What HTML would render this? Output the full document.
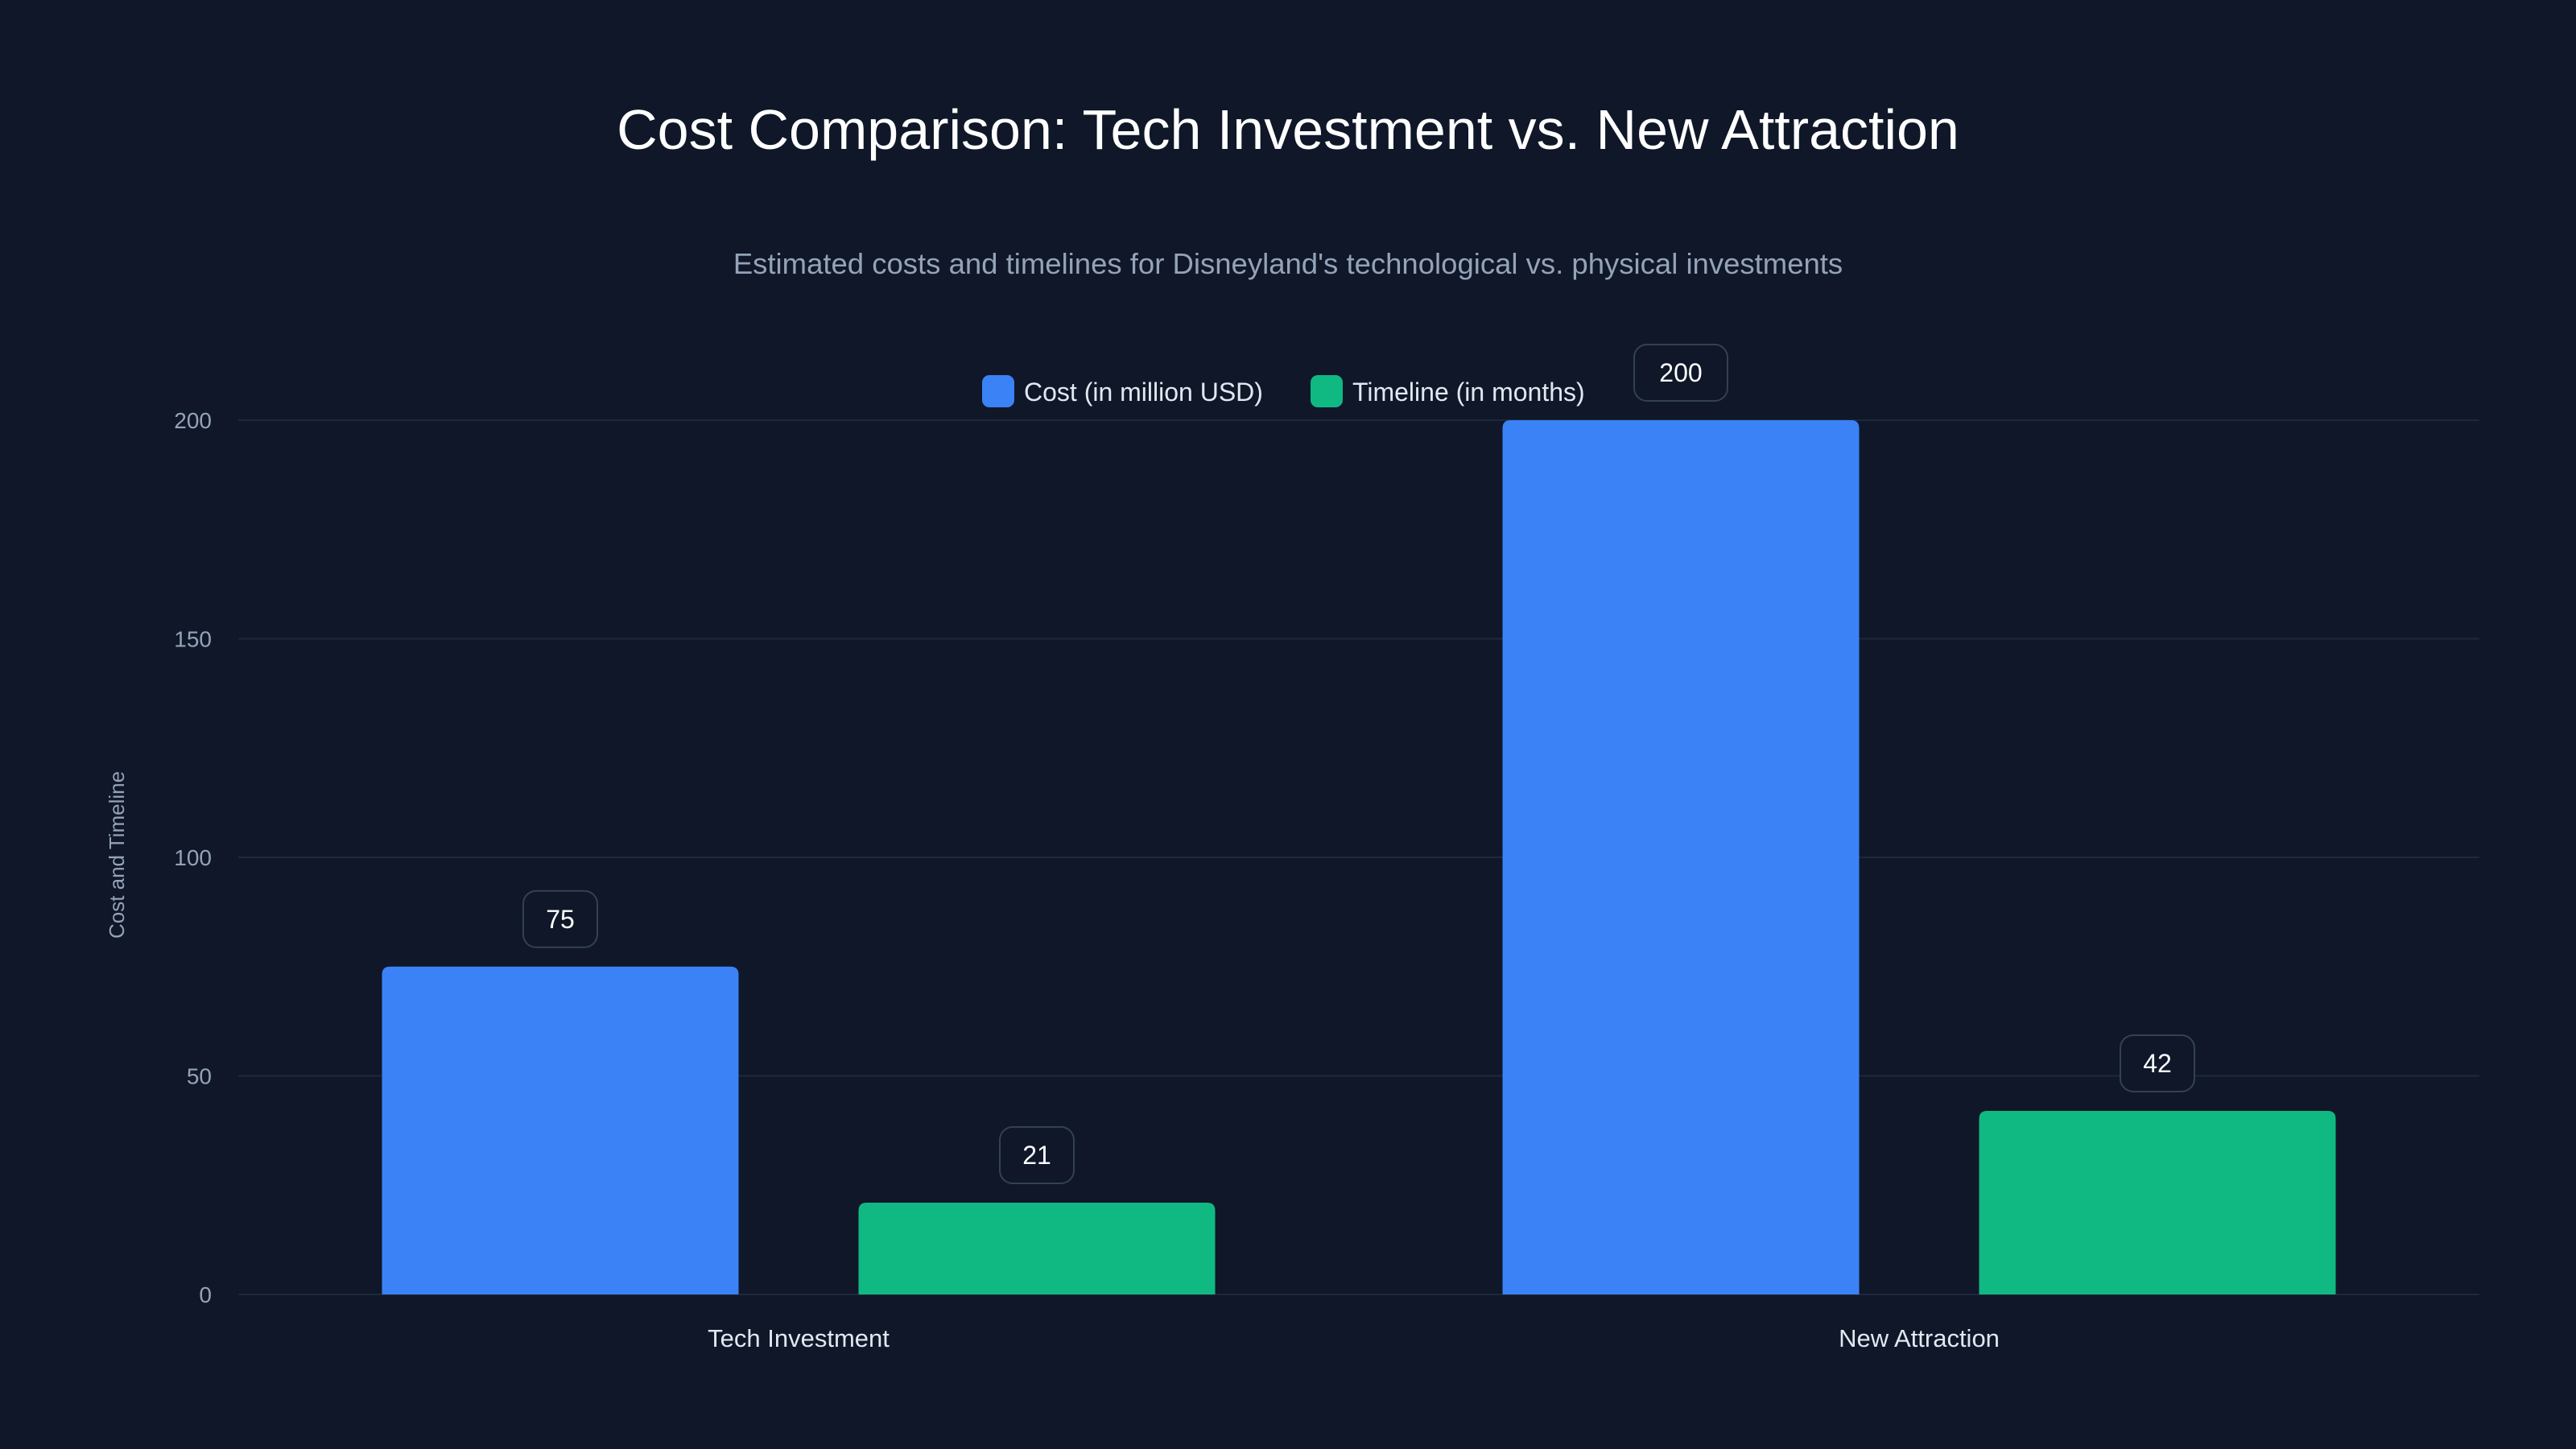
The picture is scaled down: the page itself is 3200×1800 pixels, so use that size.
<!DOCTYPE html>
<html><head><meta charset="utf-8"><style>
html,body{margin:0;padding:0;background:#0f172a;}
svg{display:block;font-family:"Liberation Sans",sans-serif;}
</style></head><body>
<svg id="chart" width="3200" height="1800" viewBox="0 0 3200 1800">
<rect width="3200" height="1800" fill="#0f1729"/>
<text x="1600" y="185" text-anchor="middle" font-size="70" fill="#ffffff">Cost Comparison: Tech Investment vs. New Attraction</text>
<text x="1600" y="340" text-anchor="middle" font-size="36.5" fill="#94a3b8">Estimated costs and timelines for Disneyland's technological vs. physical investments</text>
<g>
<g><rect x="1220" y="466" width="40" height="40" rx="9" fill="#3b82f6"/><text x="1272" y="498" font-size="32" fill="#e2e8f0">Cost (in million USD)</text></g>
<g><rect x="1628" y="466" width="40" height="40" rx="9" fill="#10b981"/><text x="1680" y="498" font-size="32" fill="#e2e8f0">Timeline (in months)</text></g>
</g>
<text transform="translate(154,1062) rotate(-90)" text-anchor="middle" font-size="26" fill="#94a3b8">Cost and Timeline</text>
<g id="grid"></g><g id="bars"></g><g id="labels"></g>
</svg>
<script>
const categories = ["Tech Investment", "New Attraction"];
const costValues = [75, 200];
const timelineValues = [21, 42];
const yTicks = [0, 50, 100, 150, 200];
const NS = "http://www.w3.org/2000/svg";
const x0 = 296, x1 = 3080, yBase = 1608, yTop = 522, yMax = 200;
const y = v => yBase - (v / yMax) * (yBase - yTop);
const groupW = (x1 - x0) / categories.length;
const barW = 443;
const cx = i => x0 + groupW * (i + 0.5);
function mk(tag, attrs, parent) { const e = document.createElementNS(NS, tag); for (const k in attrs) e.setAttribute(k, attrs[k]); parent.appendChild(e); return e; }
const grid = document.getElementById("grid"), bars = document.getElementById("bars"), labels = document.getElementById("labels");
yTicks.forEach(t => {
  const l = mk("line", {x1: x0, x2: x1, y1: y(t), y2: y(t), stroke: "#1e293b", "stroke-width": 2}, grid);
  
  
  const tx = mk("text", {x: 263, y: y(t) + 10, "text-anchor": "end", "font-size": 28, fill: "#94a3b8"}, grid);
  tx.textContent = t;
  
  
});
const series = [{vals: costValues, color: "#3b82f6", off: -296, name: "cost"}, {vals: timelineValues, color: "#10b981", off: 296, name: "timeline"}];
categories.forEach((c, i) => {
  const ct = mk("text", {x: cx(i), y: 1673, "text-anchor": "middle", "font-size": 31, fill: "#e2e8f0"}, labels);
  ct.textContent = c;
  
  
  series.forEach(s => {
    const v = s.vals[i], bx = cx(i) + s.off - barW / 2, by = y(v);
    const p = mk("path", {d: `M${bx},${yBase} V${by + 10} Q${bx},${by} ${bx + 10},${by} H${bx + barW - 10} Q${bx + barW},${by} ${bx + barW},${by + 10} V${yBase} Z`, fill: s.color}, bars);
    
    
    const bw = String(v).length > 2 ? 116 : 92;
    const r = mk("rect", {x: cx(i) + s.off - bw / 2, y: by - 94, width: bw, height: 70, rx: 16, fill: "#0f1729", stroke: "#334155", "stroke-width": 2}, labels);
    
    
    const t = mk("text", {x: cx(i) + s.off, y: by - 48, "text-anchor": "middle", "font-size": 32, fill: "#ffffff"}, labels);
    t.textContent = v;
    
    
  });
});
</script>
</body></html>
